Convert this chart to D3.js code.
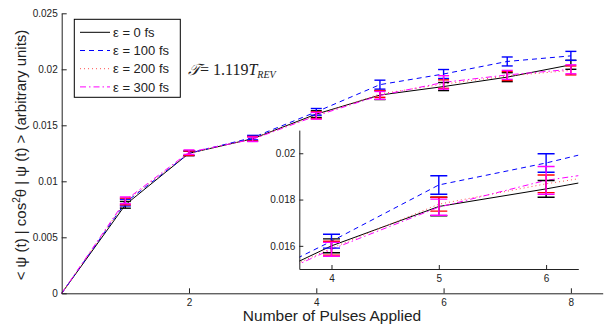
<!DOCTYPE html>
<html>
<head>
<meta charset="utf-8">
<script src="https://d3js.org/d3.v7.min.js"></script>
<style>
  body { margin: 0; background: #fff; }
  svg text { font-family: "Liberation Sans", Arial, sans-serif; fill: #222; }
  .axis path, .axis line { stroke: #222; stroke-width: 1; }
</style>
</head>
<body>
<div id="dataviz-container"></div>
<script>
// pulses applied (x) and mean alignment per delay epsilon
const pulses = [0, 1, 2, 3, 4, 5, 6, 7, 8];
const seriesNames = ['ε = 0 fs', 'ε = 100 fs', 'ε = 200 fs', 'ε = 300 fs'];

const eps0 = [0, 0.0079, 0.0125, 0.0138, 0.0160, 0.0177, 0.01846, 0.0193, 0.0204];
const eps100 = [0, 0.0081, 0.0125, 0.0139, 0.0162, 0.01863, 0.01958, 0.0207, 0.0212];
const eps200 = [0, 0.0082, 0.0125, 0.0138, 0.0159, 0.0178, 0.01868, 0.0194, 0.0199];
const eps300 = [0, 0.0083, 0.0126, 0.01375, 0.01585, 0.01767, 0.01883, 0.0195, 0.0200];

const err0 = [0, 0.0003, 0.0002, 0.0002, 0.0003, 0.0004, 0.00036, 0.0004, 0.0004];
const err100 = [0, 0.0003, 0.0002, 0.0002, 0.0003, 0.0004, 0.0004, 0.0004, 0.0004];
const err200 = [0, 0.0003, 0.0002, 0.0002, 0.0003, 0.0003, 0.00038, 0.0004, 0.0004];
const err300 = [0, 0.0003, 0.0002, 0.0002, 0.0003, 0.00035, 0.0006, 0.0004, 0.0004];

const yTicks = [0, 0.005, 0.01, 0.015, 0.02, 0.025];
const xTicks = [2, 4, 6, 8];
const insetXTicks = [4, 5, 6];
const insetYTicks = [0.016, 0.018, 0.02];

const width = 606;
const height = 325;

const series = [
  { name: seriesNames[0], values: eps0, errors: err0, line: '#000000', bar: '#000000', dash: null },
  { name: seriesNames[1], values: eps100, errors: err100, line: '#0000ff', bar: '#0000ff', dash: '5,4' },
  { name: seriesNames[2], values: eps200, errors: err200, line: '#ff5050', bar: '#ff0000', dash: '1,3' },
  { name: seriesNames[3], values: eps300, errors: err300, line: '#ff00ff', bar: '#ff00ff', dash: '6,3,1.5,3' }
];

const svg = d3.select('#dataviz-container')
  .append('svg')
  .attr('width', width)
  .attr('height', height);

const xScale = d3.scaleLinear().domain([0, 8.5]).range([61.7, 602.7]);
const yScale = d3.scaleLinear().domain([0, 0.025]).range([293.3, 13.3]);

const insetX = d3.scaleLinear().domain([3.7, 6.3]).range([299.3, 578.3]);
const insetY = d3.scaleLinear().domain([0.015, 0.021]).range([269, 130.1]);

const fmt = function(d) { return d === 0 ? '0' : d3.format('~g')(d); };

function drawAxes(g, xs, ys, xt, yt, tick) {
  g.append('g')
    .attr('class', 'axis')
    .attr('transform', 'translate(0,' + ys.range()[0] + ')')
    .call(d3.axisBottom(xs).tickValues(xt).tickSizeInner(-tick).tickSizeOuter(0).tickPadding(6).tickFormat(fmt))
    .call(function(a) { a.selectAll('text').style('font-size', '10px').attr('fill', '#222'); });
  g.append('g')
    .attr('class', 'axis')
    .attr('transform', 'translate(' + xs.range()[0] + ',0)')
    .call(d3.axisLeft(ys).tickValues(yt).tickSizeInner(-tick).tickSizeOuter(0).tickPadding(4).tickFormat(fmt))
    .call(function(a) { a.selectAll('text').style('font-size', '10px').attr('fill', '#222'); });
}

function drawSeries(g, xs, ys, capW) {
  const line = d3.line()
    .x(function(d, i) { return xs(pulses[i]); })
    .y(function(d) { return ys(d); });

  series.forEach(function(s) {
    g.append('path')
      .attr('d', line(s.values))
      .attr('fill', 'none')
      .attr('stroke', s.line)
      .attr('stroke-width', 1)
      .attr('stroke-dasharray', s.dash);
  });

  series.forEach(function(s) {
    const bars = g.append('g').attr('stroke', s.bar).attr('stroke-width', 1.4);
    s.values.forEach(function(v, i) {
      if (i === 0) return;
      const x = xs(pulses[i]);
      const lo = ys(v - s.errors[i]);
      const hi = ys(v + s.errors[i]);
      bars.append('line').attr('x1', x).attr('x2', x).attr('y1', lo).attr('y2', hi);
      bars.append('line').attr('x1', x - capW / 2).attr('x2', x + capW / 2).attr('y1', lo).attr('y2', lo);
      bars.append('line').attr('x1', x - capW / 2).attr('x2', x + capW / 2).attr('y1', hi).attr('y2', hi);
    });
  });
}

// main axes
const main = svg.append('g').attr('class', 'main');
drawSeries(main, xScale, yScale, 11);
drawAxes(main, xScale, yScale, xTicks, yTicks, 5);

// inset axes
const inset = svg.append('g').attr('class', 'inset');
inset.append('rect')
  .attr('x', insetX.range()[0])
  .attr('y', insetY.range()[1])
  .attr('width', insetX.range()[1] - insetX.range()[0])
  .attr('height', insetY.range()[0] - insetY.range()[1])
  .attr('fill', '#fff');

svg.append('clipPath')
  .attr('id', 'insetClip')
  .append('rect')
  .attr('x', insetX.range()[0])
  .attr('y', insetY.range()[1])
  .attr('width', insetX.range()[1] - insetX.range()[0])
  .attr('height', insetY.range()[0] - insetY.range()[1]);

const insetPlot = inset.append('g').attr('clip-path', 'url(#insetClip)');
drawSeries(insetPlot, insetX, insetY, 17);
drawAxes(inset, insetX, insetY, insetXTicks, insetYTicks, 4);

// legend
const legend = svg.append('g').attr('class', 'legend');
legend.append('rect')
  .attr('x', 74.3)
  .attr('y', 19.3)
  .attr('width', 106)
  .attr('height', 78)
  .attr('fill', '#fff')
  .attr('stroke', '#000')
  .attr('stroke-width', 1);

const legendItems = legend.selectAll('g.item')
  .data(series)
  .enter()
  .append('g')
  .attr('class', 'item')
  .attr('transform', function(d, i) { return 'translate(0,' + (32.3 + i * 18.2) + ')'; });

legendItems.append('line')
  .attr('x1', 80).attr('x2', 110)
  .attr('y1', 0).attr('y2', 0)
  .attr('stroke', function(d) { return d.line; })
  .attr('stroke-width', 1)
  .attr('stroke-dasharray', function(d) { return d.dash; });

legendItems.append('text')
  .attr('x', 113)
  .attr('y', 0)
  .attr('dy', '0.36em')
  .style('font-size', '13px')
  .text(function(d) { return d.name; });

// annotation
const note = svg.append('text')
  .attr('x', 188)
  .attr('y', 75)
  .style('font-family', '"Liberation Serif", "DejaVu Serif", serif')
  .style('font-size', '16px');
note.append('tspan').style('font-style', 'italic').text('𝒯');
note.append('tspan').text('= 1.119');
note.append('tspan').style('font-style', 'italic').text('T');
note.append('tspan').style('font-style', 'italic').style('font-size', '10px').attr('dy', 3).text('REV');

// axis titles
svg.append('text')
  .attr('x', 332)
  .attr('y', 321)
  .attr('text-anchor', 'middle')
  .style('font-size', '15.5px')
  .text('Number of Pulses Applied');

const yTitle = svg.append('text')
  .attr('transform', 'translate(26,155) rotate(-90)')
  .attr('text-anchor', 'middle')
  .style('font-size', '15px');
yTitle.append('tspan').text('< ψ (t) | cos');
yTitle.append('tspan').attr('dy', -6).style('font-size', '10px').text('2');
yTitle.append('tspan').attr('dy', 6).text('θ | ψ (t) > (arbitrary units)');
</script>
</body>
</html>
